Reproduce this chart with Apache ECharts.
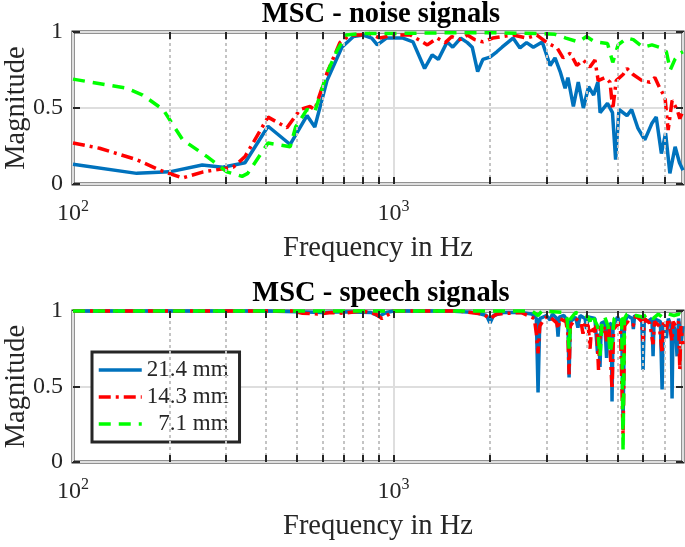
<!DOCTYPE html>
<html><head><meta charset="utf-8">
<script src="https://cdn.jsdelivr.net/npm/echarts@6/dist/echarts.min.js"></script>
<style>html,body{margin:0;padding:0;background:#fff}#c{width:685px;height:547px}</style>
</head><body><div id="c"></div>
<script>
// ---------- data ----------
const seriesNames = ['21.4 mm', '14.3 mm', '7.1 mm'];
const plotTitles = ['MSC - noise signals', 'MSC - speech signals'];
const xAxisTitle = 'Frequency in Hz';
const yAxisTitle = 'Magnitude';
const xTickLabels = { 100: '2', 1000: '3' };   // 10^2, 10^3
const yTickValues = [0, 0.5, 1];
const minorGridFreqs = [200, 300, 400, 500, 600, 700, 800, 900, 2000, 3000, 4000, 5000, 6000, 7000];
const tickFreqs = [200, 300, 400, 500, 600, 700, 800, 900, 1000, 2000, 3000, 4000, 5000, 6000, 7000];

// noise signals
const noiseF214 = [100, 158, 200, 253, 293, 344, 406, 476, 537, 568, 620, 690, 750, 803, 855, 890, 950, 1070, 1150, 1250, 1320, 1380, 1470, 1530, 1620, 1700, 1760, 1830, 1900, 2000, 2100, 2180, 2360, 2480, 2600, 2730, 2910, 3080, 3190, 3310, 3430, 3500, 3640, 3770, 3910, 4060, 4210, 4340, 4410, 4650, 4820, 4930, 5050, 5350, 5530, 5780, 6080, 6400, 6600, 6850, 7060, 7280, 7560, 7800, 8000];
const noiseV214 = [0.13, 0.07, 0.08, 0.125, 0.11, 0.14, 0.38, 0.26, 0.45, 0.375, 0.68, 0.90, 0.97, 0.98, 0.96, 0.915, 0.96, 0.96, 0.935, 0.76, 0.85, 0.82, 0.935, 0.90, 0.96, 0.93, 0.90, 0.74, 0.82, 0.835, 0.87, 0.90, 0.96, 0.895, 0.93, 0.90, 0.935, 0.78, 0.83, 0.74, 0.63, 0.70, 0.51, 0.67, 0.50, 0.64, 0.585, 0.67, 0.47, 0.53, 0.47, 0.16, 0.49, 0.45, 0.49, 0.37, 0.29, 0.40, 0.44, 0.20, 0.335, 0.07, 0.245, 0.14, 0.09];

const noiseF143 = [100, 121, 158, 187, 220, 255, 316, 344, 406, 465, 511, 549, 568, 620, 680, 731, 785, 843, 906, 1000, 1129, 1195, 1275, 1370, 1450, 1520, 1616, 1700, 1790, 1900, 2040, 2190, 2360, 2600, 2800, 3010, 3240, 3380, 3560, 3730, 3910, 4100, 4250, 4350, 4570, 4735, 4830, 4950, 5200, 5350, 5590, 5960, 6306, 6537, 6775, 7030, 7190, 7400, 7665, 7820, 8000];
const noiseV143 = [0.27, 0.235, 0.16, 0.09, 0.04, 0.08, 0.11, 0.18, 0.44, 0.37, 0.49, 0.51, 0.49, 0.73, 0.93, 0.98, 0.98, 0.99, 0.96, 0.98, 0.98, 0.95, 0.915, 0.96, 0.93, 0.97, 0.95, 0.98, 0.95, 0.935, 0.96, 0.97, 0.98, 0.96, 0.98, 0.93, 0.895, 0.83, 0.86, 0.78, 0.815, 0.77, 0.815, 0.68, 0.70, 0.67, 0.49, 0.68, 0.72, 0.76, 0.72, 0.68, 0.67, 0.70, 0.63, 0.57, 0.355, 0.55, 0.49, 0.43, 0.48];

const noiseF71 = [100, 147, 165, 191, 220, 262, 302, 337, 351, 406, 476, 495, 537, 568, 620, 667, 712, 800, 1000, 1500, 2000, 2900, 3190, 3450, 3770, 4000, 4250, 4650, 4830, 5018, 5350, 5600, 6004, 6400, 6850, 7100, 7300, 7550, 7820, 8000];
const noiseV71 = [0.69, 0.63, 0.585, 0.49, 0.29, 0.18, 0.08, 0.05, 0.07, 0.27, 0.245, 0.375, 0.49, 0.475, 0.73, 0.88, 0.98, 0.99, 0.99, 0.995, 0.995, 0.99, 0.985, 0.96, 0.935, 0.97, 0.935, 0.925, 0.80, 0.915, 0.96, 0.95, 0.90, 0.915, 0.895, 0.87, 0.75, 0.82, 0.86, 0.87];

// speech signals
const speechF214 = [100, 400, 500, 600, 700, 850, 900, 950, 1000, 1500, 1800, 1950, 2000, 2050, 2200, 2500, 2700, 2790, 2824, 2860, 3000, 3080, 3130, 3230, 3260, 3290, 3400, 3500, 3529, 3560, 3700, 3760, 3820, 3960, 4000, 4050, 4250, 4330, 4370, 4407, 4450, 4560, 4620, 4680, 4780, 4805, 4840, 5000, 5150, 5201, 5250, 5350, 5560, 5600, 5650, 5950, 6004, 6060, 6200, 6400, 6452, 6500, 6800, 6885, 6950, 7100, 7200, 7350, 7396, 7450, 7600, 7665, 7750, 7900, 8000];
const speechV214 = [1, 1, 0.995, 0.99, 0.995, 0.99, 0.965, 0.99, 1, 1, 0.99, 0.97, 0.92, 0.97, 0.99, 0.99, 0.98, 0.95, 0.46, 0.95, 0.97, 0.94, 0.98, 0.95, 0.83, 0.96, 0.97, 0.93, 0.56, 0.93, 0.96, 0.89, 0.97, 0.95, 0.88, 0.96, 0.95, 0.72, 0.85, 0.63, 0.92, 0.93, 0.69, 0.90, 0.92, 0.40, 0.90, 0.96, 0.90, 0.25, 0.90, 0.97, 0.95, 0.88, 0.97, 0.95, 0.61, 0.95, 0.93, 0.95, 0.70, 0.95, 0.93, 0.48, 0.92, 0.82, 0.95, 0.90, 0.42, 0.92, 0.85, 0.70, 0.95, 0.80, 0.90];

const speechF143 = [100, 480, 520, 580, 640, 700, 800, 880, 920, 970, 1000, 1600, 1900, 2000, 2100, 2500, 2750, 2790, 2824, 2860, 2950, 3050, 3230, 3260, 3300, 3450, 3500, 3529, 3560, 3700, 3850, 3900, 3960, 4050, 4103, 4150, 4253, 4300, 4360, 4420, 4500, 4560, 4620, 4700, 4805, 4860, 4950, 5100, 5201, 5260, 5350, 5588, 5700, 5950, 6004, 6060, 6300, 6452, 6520, 6750, 6885, 6950, 7100, 7200, 7396, 7450, 7600, 7750, 7819, 7880, 8000];
const speechV143 = [1, 1, 0.985, 0.98, 0.99, 0.985, 1, 0.98, 0.95, 0.98, 1, 1, 0.98, 0.95, 0.98, 0.99, 0.95, 0.85, 0.72, 0.90, 0.95, 0.97, 0.92, 0.88, 0.95, 0.93, 0.85, 0.58, 0.90, 0.95, 0.92, 0.85, 0.93, 0.90, 0.75, 0.90, 0.86, 0.92, 0.61, 0.90, 0.85, 0.90, 0.80, 0.90, 0.48, 0.88, 0.90, 0.92, 0.18, 0.90, 0.93, 0.90, 0.97, 0.93, 0.80, 0.95, 0.92, 0.78, 0.93, 0.90, 0.72, 0.93, 0.88, 0.95, 0.80, 0.93, 0.90, 0.93, 0.61, 0.90, 0.78];

const speechF71 = [100, 2700, 2824, 2900, 3400, 3480, 3529, 3570, 3700, 4050, 4103, 4150, 4330, 4407, 4470, 4560, 4670, 4740, 4805, 4880, 5050, 5150, 5201, 5250, 5350, 5700, 6004, 6200, 6452, 6700, 6885, 7200, 7500, 7800, 8000];
const speechV71 = [1, 1, 0.97, 1, 0.99, 0.95, 0.75, 0.95, 0.99, 0.96, 0.93, 0.98, 0.90, 0.70, 0.92, 0.96, 0.90, 0.72, 0.80, 0.95, 0.97, 0.95, 0.07, 0.95, 0.98, 0.97, 0.96, 0.98, 0.95, 0.98, 0.96, 0.98, 0.97, 0.98, 0.97];

// ---------- chart ----------
const FONT = 'Liberation Serif';
const TXT = '#262626';
const colors = ['#0072BD', '#FF0000', '#00FF00'];
const dashes = ['solid', [12, 5, 3, 5], [12, 8]];
const zip = (f, v) => f.map((x, i) => [x, v[i]]);
const plotData = [
  [zip(noiseF214, noiseV214), zip(noiseF143, noiseV143), zip(noiseF71, noiseV71)],
  [zip(speechF214, speechV214), zip(speechF143, speechV143), zip(speechF71, speechV71)]
];
const gridsPos = [{ top: 32, height: 152 }, { top: 311, height: 151 }];

const grids = [], xAxes = [], yAxes = [], series = [], titles = [];
gridsPos.forEach((g, i) => {
  grids.push({ left: 73, width: 610, top: g.top, height: g.height, show: true, containLabel: false,
    outerBoundsMode: 'none',
    borderColor: TXT, borderWidth: 3, backgroundColor: '#fff' });
  titles.push({ text: plotTitles[i], left: 376, top: g.top - 37, textAlign: 'center',
    textStyle: { fontFamily: FONT, fontSize: 28.5, fontWeight: 'bold', color: '#000' } });
  xAxes.push({ type: 'log', logBase: 10, gridIndex: i, min: 100, max: 8000, interval: 1,
    name: xAxisTitle, nameLocation: 'middle', nameGap: 50, nameMoveOverlap: false,
    nameTextStyle: { fontFamily: FONT, fontSize: 28.5, color: TXT },
    axisLine: { show: false }, axisTick: { show: false },
    splitLine: { show: true, lineStyle: { color: '#dedede', width: 2 } },
    axisLabel: { margin: 15, showMaxLabel: false,
      formatter: v => { const k = Math.round(v); return xTickLabels[k] ? '{b|10}{s|' + xTickLabels[k] + '}' : ''; },
      rich: { b: { fontFamily: FONT, fontSize: 24, color: TXT, lineHeight: 30 },
              s: { fontFamily: FONT, fontSize: 16, color: TXT, verticalAlign: 'top', lineHeight: 30 } } } });
  const yBase = { type: 'value', gridIndex: i, min: 0, max: 1, interval: 0.5,
    axisLine: { show: false },
    axisTick: { show: true, inside: true, length: 7, lineStyle: { color: TXT, width: 2 } } };
  yAxes.push(Object.assign({}, yBase, { position: 'left', name: yAxisTitle, nameLocation: 'middle', nameGap: 42,
    nameMoveOverlap: false,
    nameTextStyle: { fontFamily: FONT, fontSize: 28.5, color: TXT },
    splitLine: { show: true, lineStyle: { color: '#dedede', width: 2 } },
    axisLabel: { margin: 10, fontFamily: FONT, fontSize: 24, color: TXT,
      formatter: v => yTickValues.includes(v) ? String(v) : '' } }));
  yAxes.push(Object.assign({}, yBase, { position: 'right', splitLine: { show: false }, axisLabel: { show: false } }));
  // minor dotted grid + ticks
  const tickLen = 7 / g.height;
  series.push({ type: 'line', xAxisIndex: i, yAxisIndex: 2 * i, data: [[100, 0.5]], symbol: 'none', silent: true,
    lineStyle: { opacity: 0 }, z: 1, animation: false,
    markLine: { silent: true, symbol: ['none', 'none'], label: { show: false }, animation: false,
      lineStyle: { color: '#c4c4c4', width: 2, type: [3, 3] },
      data: minorGridFreqs.map(f => ({ xAxis: f })) } });
  series.push({ type: 'line', xAxisIndex: i, yAxisIndex: 2 * i, data: [[100, 0.5]], symbol: 'none', silent: true,
    lineStyle: { opacity: 0 }, z: 4, animation: false,
    markLine: { silent: true, symbol: ['none', 'none'], label: { show: false }, animation: false,
      lineStyle: { color: TXT, width: 2, type: 'solid' },
      data: tickFreqs.map(f => [{ coord: [f, 0] }, { coord: [f, tickLen] }])
        .concat(tickFreqs.map(f => [{ coord: [f, 1] }, { coord: [f, 1 - tickLen] }])) } });
  seriesNames.forEach((n, k) => {
    series.push({ type: 'line', name: n, xAxisIndex: i, yAxisIndex: 2 * i, data: plotData[i][k],
      symbol: 'none', clip: false, z: 3, animation: false,
      lineStyle: { color: colors[k], width: 3.5, type: dashes[k] }, itemStyle: { color: colors[k] } });
  });
});

const chart = echarts.init(document.getElementById('c'), null, { renderer: 'canvas' });
chart.setOption({
  animation: false,
  backgroundColor: '#fff',
  title: titles,
  grid: grids, xAxis: xAxes, yAxis: yAxes, series: series,
  legend: { data: seriesNames, orient: 'vertical', left: 92, top: 352, backgroundColor: '#fff',
    borderColor: TXT, borderWidth: 3, borderRadius: 0, padding: [5, 11, 5, 5], itemGap: 1,
    itemWidth: 43, itemHeight: 14, selectedMode: false,
    itemStyle: { opacity: 0 },
    lineStyle: { width: 3.5 },
    formatter: n => n === '7.1 mm' ? '  ' + n : n,
    textStyle: { fontFamily: FONT, fontSize: 23, color: TXT, lineHeight: 26 } }
});
</script></body></html>
